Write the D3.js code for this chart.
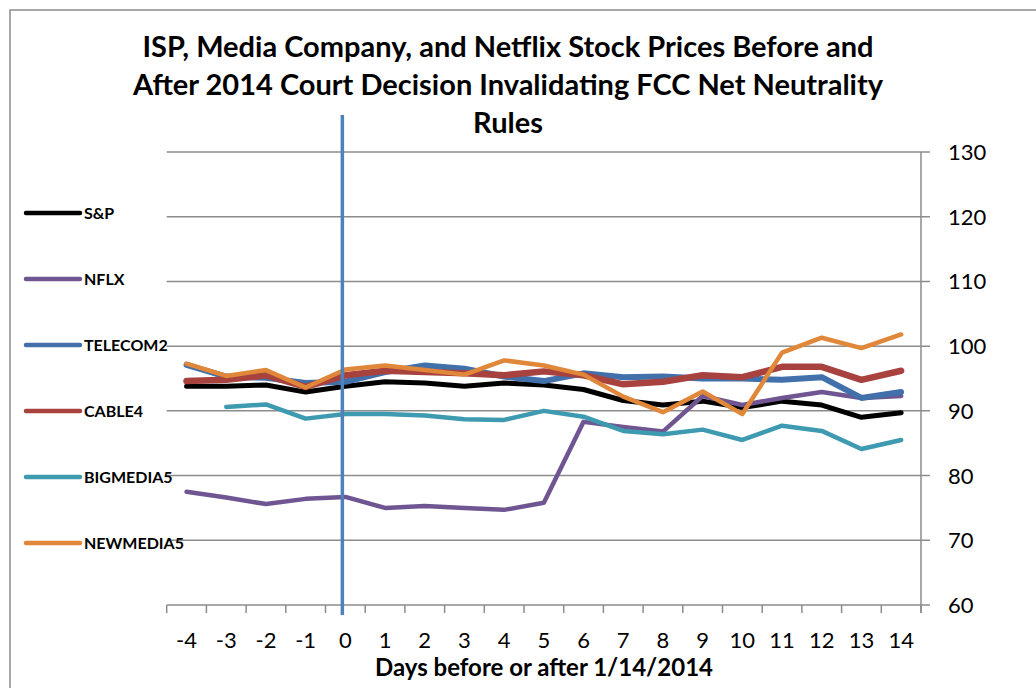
<!DOCTYPE html>
<html>
<head>
<meta charset="utf-8">
<script src="https://cdn.jsdelivr.net/npm/d3@7"></script>
<style>
  body { margin: 0; background: #fff; }
  svg { display: block; font-family: Lato, "Open Sans", sans-serif; }
</style>
</head>
<body>
<svg id="chart" width="1036" height="688"></svg>
<script>
const days = [-4, -3, -2, -1, 0, 1, 2, 3, 4, 5, 6, 7, 8, 9, 10, 11, 12, 13, 14]
const yTicks = [60, 70, 80, 90, 100, 110, 120, 130]

const sp = [93.8, 93.8, 94.0, 92.9, 93.8, 94.5, 94.3, 93.8, 94.3, 94.0, 93.3, 91.6, 90.9, 91.5, 90.5, 91.5, 90.9, 89.0, 89.7]
const nflx = [77.5, 76.6, 75.6, 76.4, 76.7, 75.0, 75.3, 75.0, 74.7, 75.8, 88.3, 87.5, 86.8, 92.3, 90.9, 92.0, 92.9, 92.0, 92.3]
const telecom2 = [97.1, 95.3, 95.1, 94.3, 94.5, 96.0, 97.0, 96.5, 95.3, 94.6, 95.8, 95.2, 95.3, 95.0, 95.0, 94.8, 95.2, 92.0, 92.9]
const cable4 = [94.6, 94.8, 95.5, 93.7, 95.5, 96.2, 96.0, 95.8, 95.5, 96.1, 95.5, 94.1, 94.5, 95.5, 95.2, 96.8, 96.8, 94.8, 96.2]
const bigmedia5 = [null, 90.6, 91.0, 88.8, 89.5, 89.5, 89.3, 88.7, 88.6, 90.0, 89.1, 86.9, 86.4, 87.1, 85.5, 87.7, 86.9, 84.1, 85.5]
const newmedia5 = [97.3, 95.4, 96.3, 93.6, 96.4, 97.0, 96.3, 95.6, 97.8, 97.0, 95.6, 92.2, 89.8, 93.0, 89.5, 99.0, 101.3, 99.7, 101.8]

const series = [
  { name: "S&P", values: sp, color: "#000000", width: 5 },
  { name: "NFLX", values: nflx, color: "#6f5591", width: 4.5 },
  { name: "TELECOM2", values: telecom2, color: "#4170ab", width: 6 },
  { name: "CABLE4", values: cable4, color: "#a8423f", width: 6.5 },
  { name: "BIGMEDIA5", values: bigmedia5, color: "#3e9ab0", width: 4.5 },
  { name: "NEWMEDIA5", values: newmedia5, color: "#e0873a", width: 4.5 }
]

const titleLines = [
  "ISP, Media Company, and Netflix Stock Prices Before and",
  "After 2014 Court Decision Invalidating FCC Net Neutrality",
  "Rules"
]

const svg = d3.select("#chart")
const margin = { left: 166.7, right: 921, top: 152, bottom: 605 }
const gridColor = "#8c8c8c"

// chart border
svg.append("rect")
  .attr("x", 10).attr("y", 10)
  .attr("width", 1100).attr("height", 800)
  .attr("fill", "#fff")
  .attr("stroke", gridColor)
  .attr("stroke-width", 1.5)

const x = d3.scaleBand().domain(days).range([margin.left, margin.right])
const cx = d => x(d) + x.bandwidth() / 2
const y = d3.scaleLinear().domain([60, 130]).range([margin.bottom, margin.top])

// gridlines (extend out as right-side ticks)
svg.append("g")
  .selectAll("line")
  .data(yTicks)
  .join("line")
  .attr("x1", margin.left)
  .attr("x2", margin.right + 9)
  .attr("y1", d => y(d))
  .attr("y2", d => y(d))
  .attr("stroke", gridColor)
  .attr("stroke-width", 1.5)

// right axis
svg.append("line")
  .attr("x1", margin.right).attr("x2", margin.right)
  .attr("y1", margin.top).attr("y2", margin.bottom + 8)
  .attr("stroke", gridColor).attr("stroke-width", 1.5)

svg.append("g")
  .selectAll("text")
  .data(yTicks)
  .join("text")
  .attr("x", margin.right + 27)
  .attr("y", d => y(d) + 8)
  .attr("font-size", 22)
  .attr("fill", "#000")
  .text(d => d)

// bottom axis ticks at category boundaries
const boundaries = days.map(d => x(d)).concat([margin.right])
svg.append("g")
  .selectAll("line")
  .data(boundaries)
  .join("line")
  .attr("x1", d => d).attr("x2", d => d)
  .attr("y1", margin.bottom).attr("y2", margin.bottom + 8)
  .attr("stroke", gridColor).attr("stroke-width", 1.5)

svg.append("g")
  .selectAll("text")
  .data(days)
  .join("text")
  .attr("x", d => cx(d))
  .attr("y", 648)
  .attr("text-anchor", "middle")
  .attr("font-size", 22)
  .text(d => d)

// series lines
const line = d3.line()
  .defined(d => d.v != null)
  .x(d => cx(d.day))
  .y(d => y(d.v))

svg.append("g")
  .selectAll("path")
  .data(series)
  .join("path")
  .attr("d", s => line(s.values.map((v, i) => ({ day: days[i], v }))))
  .attr("fill", "none")
  .attr("stroke", s => s.color)
  .attr("stroke-width", s => s.width)
  .attr("stroke-linejoin", "round")
  .attr("stroke-linecap", "round")

// decision day marker
svg.append("line")
  .attr("x1", cx(0) - 3).attr("x2", cx(0) - 3)
  .attr("y1", 115).attr("y2", margin.bottom + 10)
  .attr("stroke", "#4f81bd")
  .attr("stroke-width", 3.5)

// legend
const legend = svg.append("g")
  .selectAll("g")
  .data(series)
  .join("g")
  .attr("transform", (s, i) => `translate(0,${213 + i * 66})`)

legend.append("line")
  .attr("x1", 26).attr("x2", 80)
  .attr("stroke", s => s.color)
  .attr("stroke-width", 4.5)
  .attr("stroke-linecap", "round")

legend.append("text")
  .attr("x", 84)
  .attr("y", 5.5)
  .attr("font-size", 16)
  .attr("font-weight", "bold")
  .text(s => s.name)

// title
svg.append("g")
  .selectAll("text")
  .data(titleLines)
  .join("text")
  .attr("x", 508)
  .attr("y", (d, i) => 57 + i * 38)
  .attr("text-anchor", "middle")
  .attr("font-size", 29)
  .attr("font-weight", "bold")
  .text(d => d)

svg.append("text")
  .attr("x", 544)
  .attr("y", 676)
  .attr("text-anchor", "middle")
  .attr("font-size", 24)
  .attr("font-weight", "bold")
  .text("Days before or after 1/14/2014")
</script>
</body>
</html>
